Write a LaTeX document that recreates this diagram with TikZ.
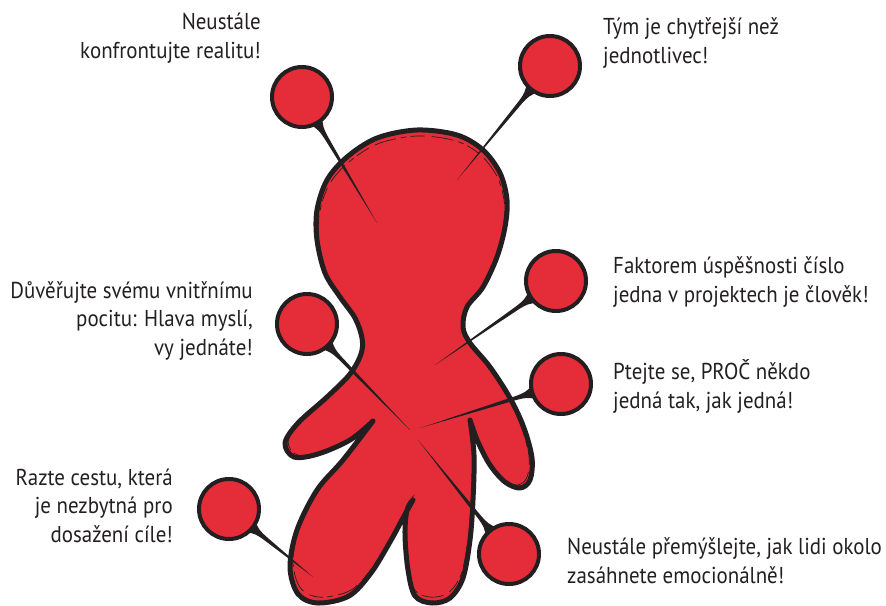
\documentclass[tikz,border=0pt]{standalone}
\usepackage{fontspec}
\setmainfont{PT Sans}[FakeStretch=0.91]
\usetikzlibrary{calc}

\definecolor{dollred}{RGB}{228,45,57}
\definecolor{ink}{RGB}{35,31,32}

% needle from a pin head (#1) to its point (#2): flared neck, tapering shaft
\newcommand\drawneedle[2]{%
  \fill[ink]
    ($(#1.center)!27pt!-17:(#2)$)
    .. controls ($(#1.center)!37pt!-4:(#2)$) .. ($(#1.center)!47pt!-2.4:(#2)$)
    -- (#2)
    -- ($(#1.center)!47pt!2.4:(#2)$)
    .. controls ($(#1.center)!37pt!4:(#2)$) .. ($(#1.center)!27pt!17:(#2)$)
    -- cycle;}

% outline of the doll: arms and head, right leg, left leg
\newcommand\dolloutline{
  plot[smooth, tension=0.55] coordinates {
    (373,421) (350,440) (318,454) (294,457) (285,443) (298,423) (327,397)
    (350,374) (361,354) (362,338) (355,318) (340,297) (325,273) (317,240)
    (317,210) (327,180) (347,157) (377,138) (417,130) (457,135) (483,150)
    (500,173) (507,200) (505,227) (497,257) (483,287) (467,307) (463,327)
    (470,343) (490,367) (510,398) (524,428) (532,458) (530,480) (520,488)
    (505,482) (490,465) (478,442) (470,420)}
  -- plot[smooth, tension=0.55] coordinates {
    (470,420) (474,455) (473,500) (470,540) (463,578) (450,598) (432,603)
    (415,596) (408,570) (405,535) (407,510) (413,500)}
  -- plot[smooth, tension=0.55] coordinates {
    (413,500) (403,518) (390,542) (371,573) (349,596) (318,603) (298,594)
    (290,567) (297,530) (317,490) (343,460) (373,421)}
  -- cycle}

\tikzset{
  dollbody/.style={fill=dollred, draw=ink, line width=5pt, line join=round},
  stitch/.style={draw=ink, line width=0.7pt,
                 dash pattern=on 22pt off 5pt on 6pt off 4pt on 14pt off 7pt},
  pinhead/.style={circle, fill=dollred, draw=ink, line width=4pt,
                  minimum size=60pt, inner sep=0pt},
  caption/.style={text=ink, inner sep=0pt,
                  font=\fontsize{23}{28.5}\selectfont},
  capleft/.style={caption, align=left, anchor=base west},
  capright/.style={caption, align=right, anchor=base east},
}

\begin{document}
\begin{tikzpicture}[x=1pt, y=-1pt]
\useasboundingbox (0,0) rectangle (886,605);

\draw[dollbody] \dolloutline;
% sketchy inner contour
\begin{scope}[shift={(410,370)}, scale=0.975, shift={(-410,-370)}]
  \draw[stitch] \dolloutline;
\end{scope}

% needle points inside the doll
\coordinate (t1) at (377,223);
\coordinate (t2) at (457,180);
\coordinate (t3) at (435,365);
\coordinate (t4) at (420,428);
\coordinate (t5) at (410,430);
\coordinate (t6) at (418,440);
\coordinate (t7) at (313,577);

% pin head centres
\coordinate (c1) at (302,97);
\coordinate (c2) at (550,66);
\coordinate (c3) at (556,281);
\coordinate (c4) at (561,384);
\coordinate (c5) at (307,324);
\coordinate (c6) at (509,554);
\coordinate (c7) at (229,509);

\foreach \i in {1,...,7} {
  \node[inner sep=0pt, minimum size=60pt, circle] (h\i) at (c\i) {};
  \drawneedle{h\i}{t\i}
}
\foreach \i in {1,...,7} {
  \node[pinhead] at (c\i) {};
}

% captions (anchored at the baseline of their last line)
\node[capright] (l1) at (261,58)  {Neustále\\konfrontujte realitu!};
\node[capleft]  (l2) at (603,63)  {Tým je chytřejší než\\jednotlivec!};
\node[capleft]  (l3) at (613,302) {Faktorem úspěšnosti číslo\\jedna v projektech je člověk!};
\node[capleft]  (l4) at (613,408) {Ptejte se, PROČ někdo\\jedná tak, jak jedná!};
\node[capright] (l5) at (253,355) {Důvěřujte svému vnitřnímu\\pocitu: Hlava myslí,\\vy jednáte!};
\node[capright] (l6) at (173,542) {Razte cestu, která\\je nezbytná pro\\dosažení cíle!};
\node[capleft]  (l7) at (567,583) {Neustále přemýšlejte, jak lidi okolo\\zasáhnete emocionálně!};
\end{tikzpicture}
\end{document}
